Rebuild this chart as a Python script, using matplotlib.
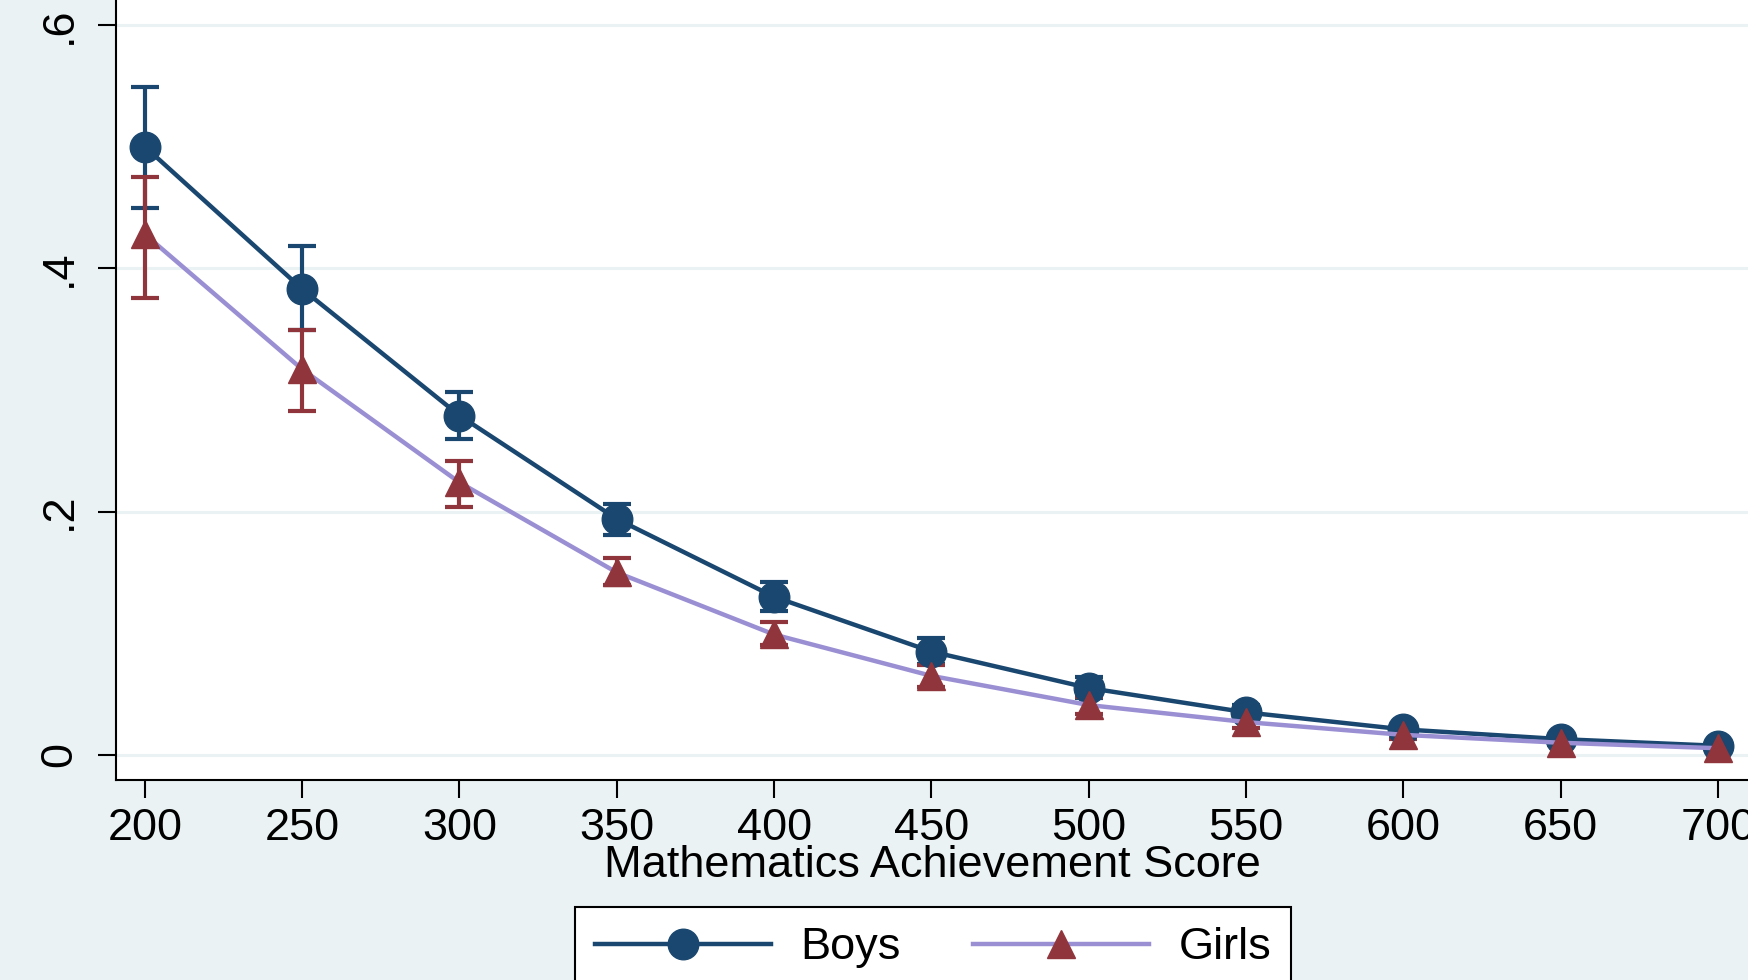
import matplotlib
matplotlib.use("Agg")
import matplotlib.pyplot as plt

plt.rcParams['font.family'] = ['Liberation Sans', 'DejaVu Sans']

scores = [200, 250, 300, 350, 400, 450, 500, 550, 600, 650, 700]
boys = [0.500, 0.383, 0.279, 0.194, 0.130, 0.085, 0.055, 0.035, 0.021, 0.013, 0.0075]
boys_hi = [0.549, 0.418, 0.298, 0.206, 0.142, 0.096, 0.064, 0.041, 0.025, 0.016, 0.009]
boys_lo = [0.450, 0.349, 0.260, 0.181, 0.118, 0.075, 0.047, 0.029, 0.017, 0.010, 0.006]
girls = [0.428, 0.317, 0.224, 0.150, 0.099, 0.065, 0.041, 0.027, 0.0165, 0.010, 0.0055]
girls_hi = [0.475, 0.349, 0.242, 0.162, 0.109, 0.074, 0.048, 0.032, 0.020, 0.012, 0.007]
girls_lo = [0.376, 0.283, 0.204, 0.140, 0.090, 0.056, 0.034, 0.022, 0.013, 0.008, 0.004]
yticks = [0, 0.2, 0.4, 0.6]
yticklabels = ["0", ".2", ".4", ".6"]

BG = "#EAF2F3"
NAVY = "#1A476F"
MAROON = "#90353B"
LAV = "#9A8FD3"
FS = 32.5

fig = plt.figure(figsize=(17.49, 9.80), dpi=100, facecolor=BG)
ax = fig.add_axes([0.0663, 0.2041, 1 - 0.0663, 1 - 0.2041])
ax.set_facecolor("white")

be_lo = [b - l for b, l in zip(boys, boys_lo)]
be_hi = [h - b for b, h in zip(boys, boys_hi)]
ge_lo = [g - l for g, l in zip(girls, girls_lo)]
ge_hi = [h - g for g, h in zip(girls, girls_hi)]
ax.errorbar(scores, boys, yerr=[be_lo, be_hi], fmt='none', ecolor=NAVY,
            elinewidth=3, capsize=10, capthick=3, zorder=3)
ax.errorbar(scores, girls, yerr=[ge_lo, ge_hi], fmt='none', ecolor=MAROON,
            elinewidth=3, capsize=10, capthick=3, zorder=3.1)

ax.plot(scores, boys, color=NAVY, lw=3.2, marker='o', markersize=22,
        markerfacecolor=NAVY, markeredgecolor=NAVY, label="Boys", zorder=4)
ax.plot(scores, girls, color=LAV, lw=3.2, marker='^', markersize=20,
        markerfacecolor=MAROON, markeredgecolor=MAROON, label="Girls", zorder=4.1)

ax.set_xlim(190.8, 709.9)
ax.set_ylim(-0.0206, 0.6206)
ax.set_xticks(scores)
ax.set_xticklabels([str(s) for s in scores])
ax.set_yticks(yticks)
ax.set_yticklabels(yticklabels, rotation=90, va='center')
ax.grid(axis='y', color=BG, lw=2.2, zorder=0)
ax.set_axisbelow(True)

for s in ['top', 'right']:
    ax.spines[s].set_visible(False)
for s in ['left', 'bottom']:
    ax.spines[s].set_linewidth(1.5)
    ax.spines[s].set_color("black")

ax.tick_params(axis='both', length=13, width=1.5, labelsize=FS, color="black")
ax.tick_params(axis='y', pad=13)
ax.tick_params(axis='x', pad=7)
ax.set_xlabel("Mathematics Achievement Score", fontsize=FS, labelpad=-2.4)

leg = fig.legend(loc='upper center', bbox_to_anchor=(933 / 1749, 1 - 907 / 980),
                 ncol=2, fontsize=FS, frameon=True, fancybox=False,
                 edgecolor="black", facecolor="white", framealpha=1,
                 handlelength=3.9, handletextpad=0.65, columnspacing=1.6,
                 borderpad=0.45, borderaxespad=0)
leg.get_frame().set_linewidth(1.5)

fig.savefig("out.png", dpi=100, facecolor=BG)
